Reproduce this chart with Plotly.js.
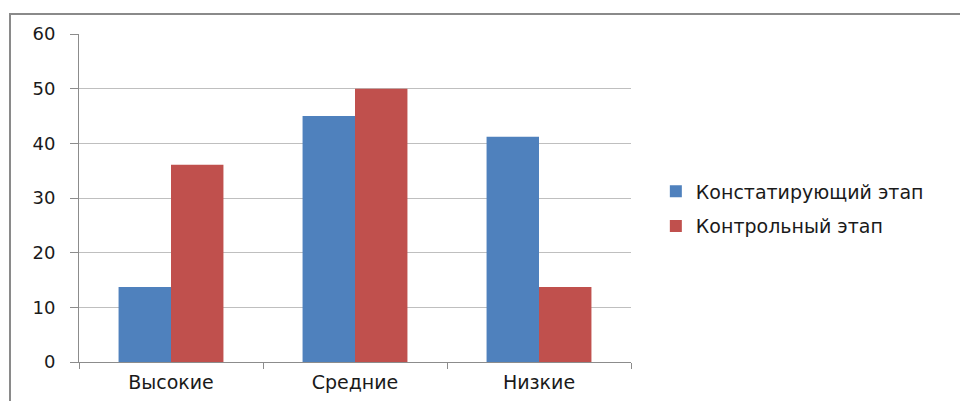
<!DOCTYPE html>
<html>
<head>
<meta charset="utf-8">
<script src="https://cdn.plot.ly/plotly-3.0.1.min.js"></script>
<style>
  html, body { margin: 0; padding: 0; background: #fff; }
  #chart { width: 960px; height: 401px; }
</style>
</head>
<body>
<div id="chart"></div>
<script>
// Уровни и доли учащихся (%) на двух этапах эксперимента
const categories = ['Высокие', 'Средние', 'Низкие'];
const seriesNames = ['Констатирующий этап', 'Контрольный этап'];
const stageAscertaining = [13.7, 45, 41.2];
const stageControl = [36.1, 50, 13.7];
const yTickValues = [0, 10, 20, 30, 40, 50, 60];

const FONT = 'DejaVu Sans, Verdana, sans-serif';
const GRID = '#bfbfbf';
const AXIS = '#8c8c8c';

const traces = [
  {
    type: 'bar', name: seriesNames[0], x: categories, y: stageAscertaining,
    marker: { color: '#4F81BD' }, legendgroup: 'a'
  },
  {
    type: 'bar', name: seriesNames[1], x: categories, y: stageControl,
    marker: { color: '#C0504D' }, legendgroup: 'b'
  }
];

const layout = {
  width: 960, height: 401,
  margin: { l: 79, r: 329, t: 34, b: 39, pad: 0 },
  paper_bgcolor: '#fff', plot_bgcolor: '#fff',
  barmode: 'group', bargap: 0.43, bargroupgap: 0,
  font: { family: FONT, color: '#000', size: 16 },
  xaxis: {
    type: 'category',
    showline: true, linecolor: AXIS, linewidth: 1,
    ticks: 'outside', ticklen: 6, tickcolor: AXIS, tickson: 'boundaries',
    showgrid: false, zeroline: false,
    tickfont: { family: FONT, size: 19, color: '#1a1a1a' },
    ticklabelstandoff: 3
  },
  yaxis: {
    range: [0, 60], tickvals: yTickValues,
    showline: true, linecolor: AXIS, linewidth: 1,
    ticks: 'outside', ticklen: 8, tickcolor: AXIS,
    showgrid: true, gridcolor: GRID, gridwidth: 1,
    zeroline: false,
    tickfont: { family: FONT, size: 18, color: '#1a1a1a' },
    ticklabelstandoff: 11
  },
  legend: {
    x: 1.045, y: 0.578, xanchor: 'left', yanchor: 'top',
    font: { family: FONT, size: 19, color: '#1a1a1a' },
    traceorder: 'grouped', tracegroupgap: 7,
    bgcolor: 'rgba(0,0,0,0)', itemwidth: 30
  },
  shapes: [
    {
      type: 'rect', xref: 'paper', yref: 'paper',
      x0: -0.125, x1: 2, y0: -0.5, y1: 1.061,
      line: { color: '#8a8a8a', width: 2 }, fillcolor: 'rgba(0,0,0,0)'
    }
  ],
  showlegend: true
};

Plotly.newPlot('chart', traces, layout, { staticPlot: true, displayModeBar: false });
</script>
</body>
</html>
